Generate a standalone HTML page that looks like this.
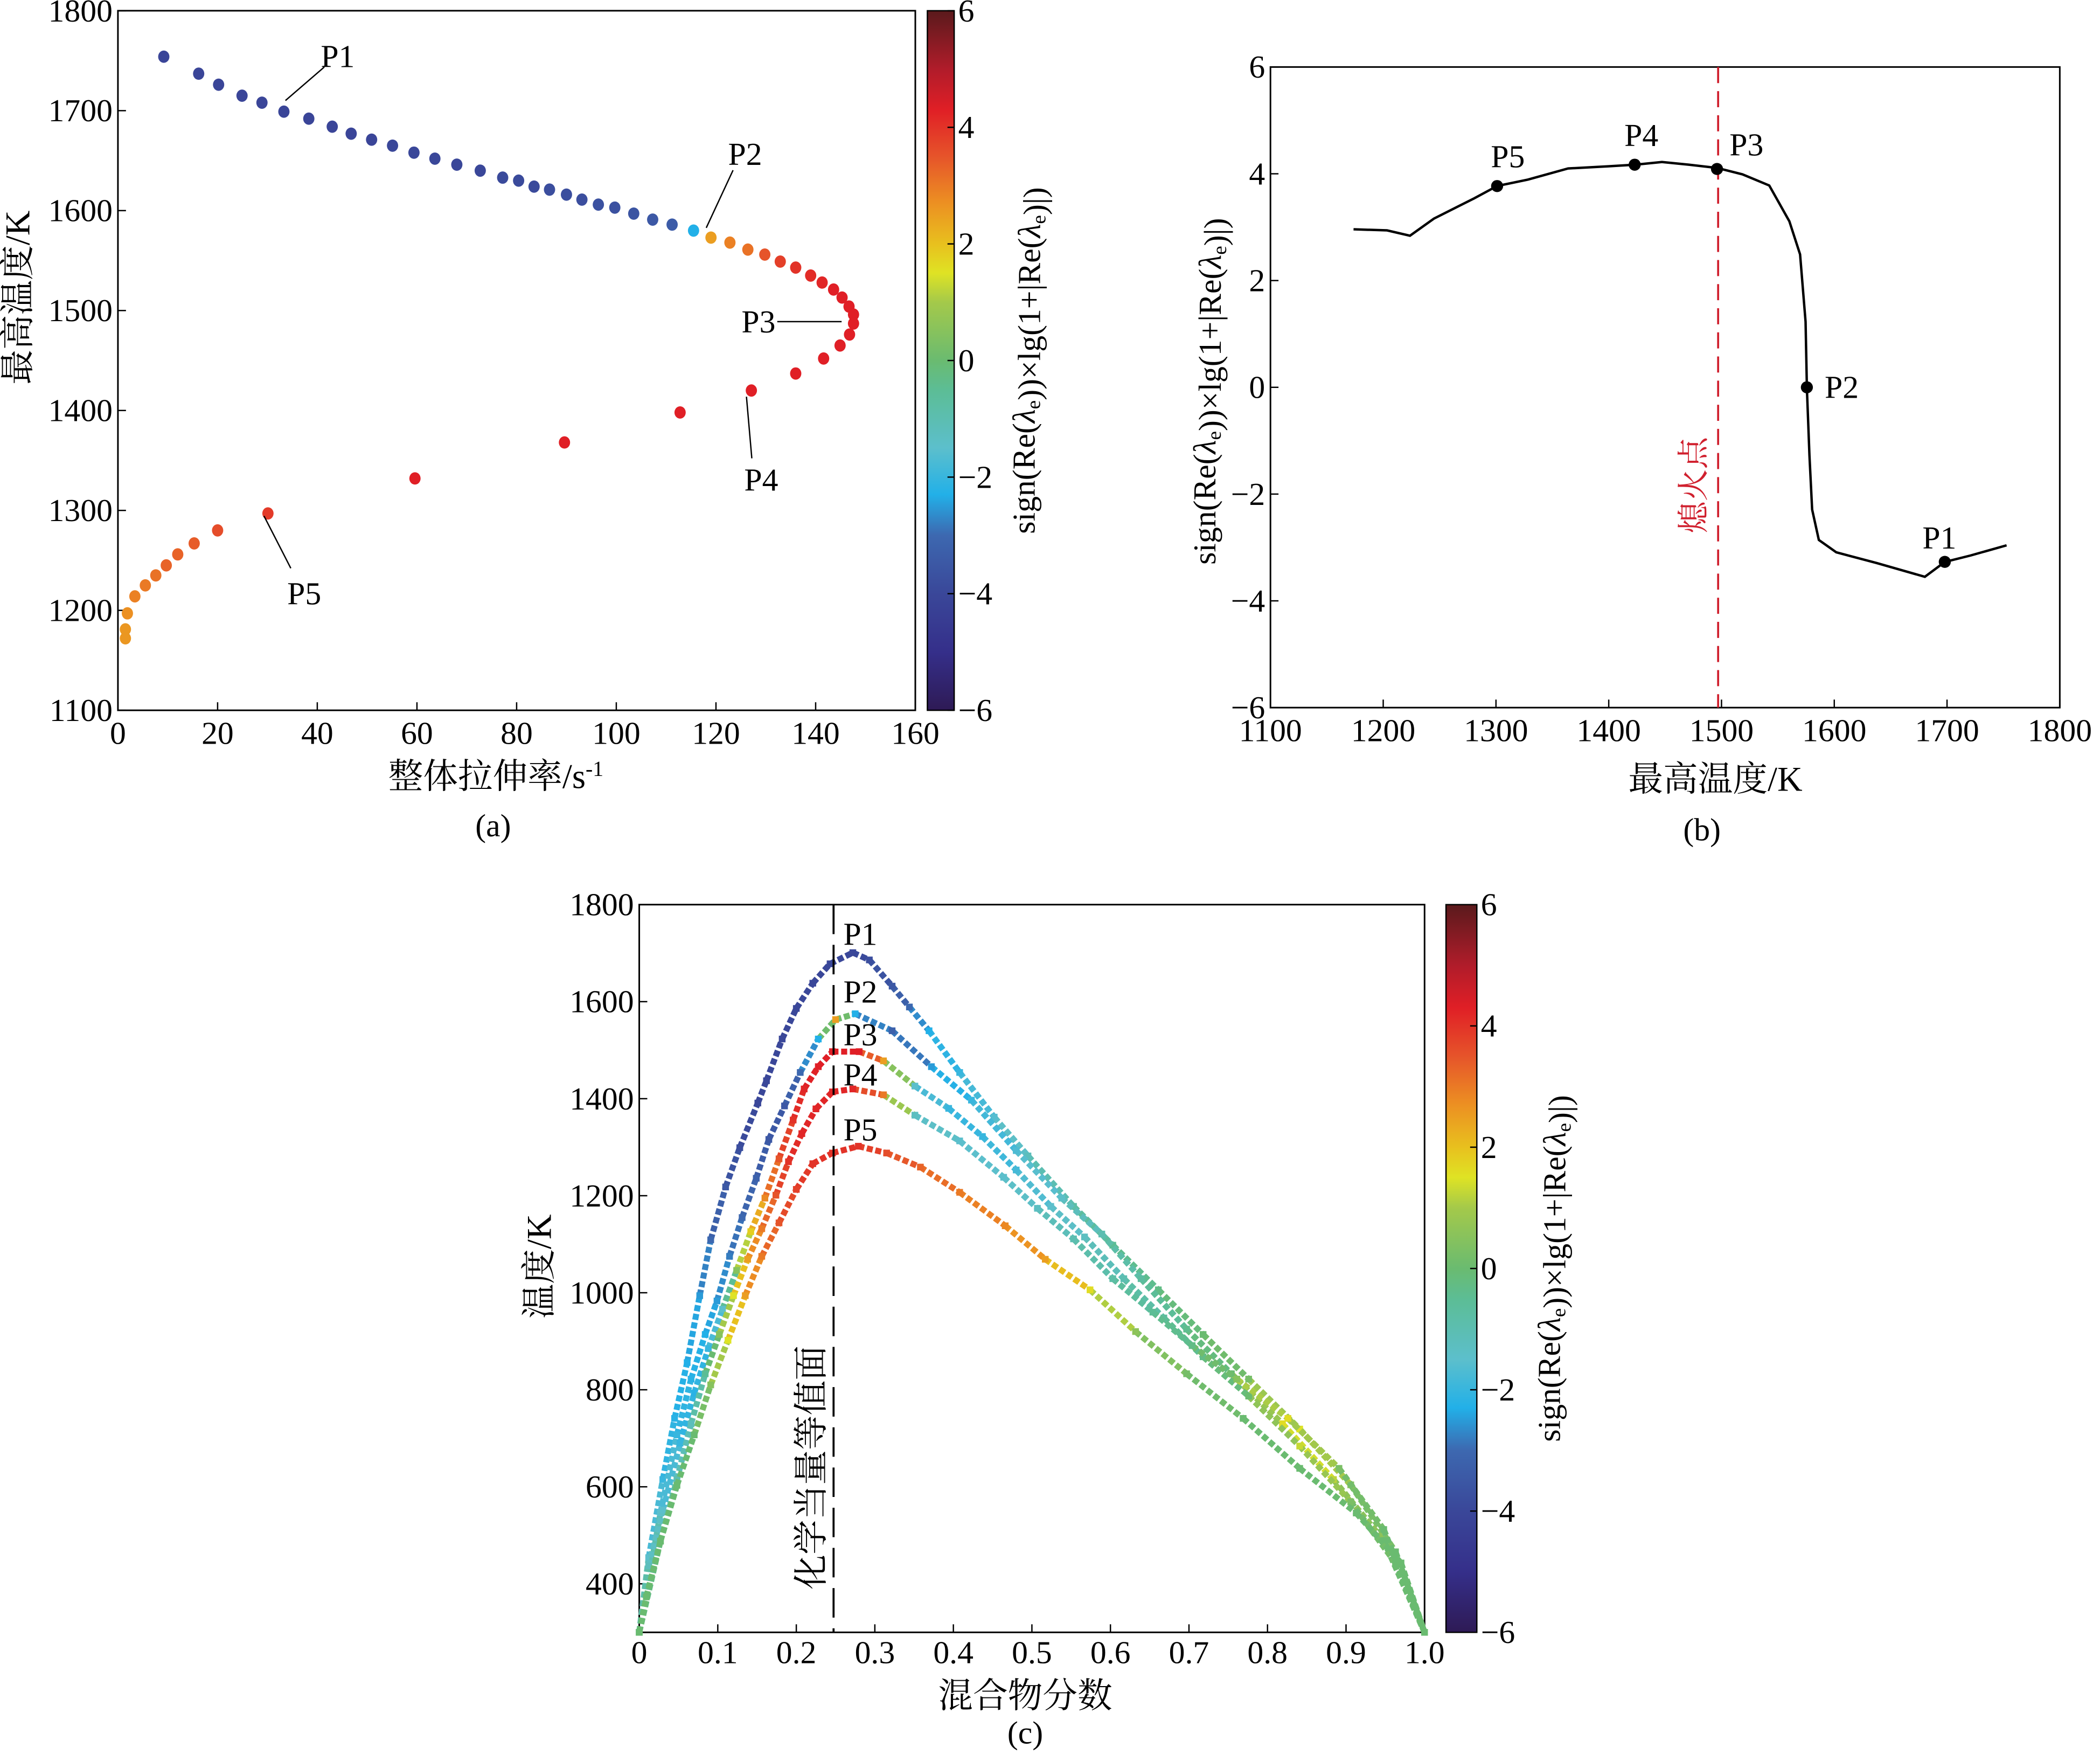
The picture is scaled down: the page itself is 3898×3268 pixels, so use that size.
<!DOCTYPE html>
<html><head><meta charset="utf-8">
<style>
html,body{margin:0;padding:0;background:#fff;}
svg{display:block;}
text{font-family:"Liberation Serif","Noto Serif CJK SC",serif;fill:#000;}
</style></head>
<body>
<svg id="fig" xmlns="http://www.w3.org/2000/svg" width="3898" height="3268" viewBox="0 0 1567 1314" preserveAspectRatio="none">
<defs>
<linearGradient id="cmap" x1="0" y1="1" x2="0" y2="0"></linearGradient>
</defs>
<g id="root"></g>
</svg>
<script>
// ---------- Panel (a) data ----------
const aRate=[9.2,16.2,20.2,24.9,28.9,33.3,38.3,43.0,46.8,50.9,55.1,59.4,63.6,68.0,72.7,77.2,80.4,83.5,86.6,90.0,93.1,96.4,99.7,103.5,107.3,111.2,115.5,119.0,122.8,126.4,129.8,132.9,136.0,139.0,141.3,143.6,145.3,146.7,147.6,147.6,146.8,144.9,141.6,136.0,127.1,112.8,89.6,59.6,30.1,20.0,15.3,12.0,9.7,7.6,5.5,3.4,1.9,1.5,1.5];
const aTemp=[1754,1737,1726,1715,1708,1699,1692,1684,1677,1671,1665,1658,1652,1646,1640,1633,1630,1624,1621,1616,1611,1606,1603,1597,1591,1586,1580,1573,1568,1561,1556,1549,1543,1535,1528,1521,1513,1504,1496,1487,1476,1465,1452,1437,1420,1398,1368,1332,1297,1280,1267,1256,1245,1235,1225,1214,1197,1181,1172];
const aVal=[-4.1,-4.1,-4.1,-4.1,-4.1,-4.1,-4.1,-4.1,-4.1,-4.1,-4.0,-4.0,-4.0,-4.0,-4.0,-3.9,-3.9,-3.9,-3.8,-3.8,-3.8,-3.7,-3.7,-3.6,-3.5,-3.4,-2.3,2.5,2.9,3.1,3.5,3.8,4.0,4.1,4.2,4.3,4.3,4.3,4.3,4.3,4.3,4.3,4.3,4.3,4.3,4.3,4.3,4.3,3.9,3.6,3.4,3.3,3.3,3.1,3.0,2.9,2.7,2.6,2.6];
const aXTicks=[0,20,40,60,80,100,120,140,160];
const aYTicks=[1100,1200,1300,1400,1500,1600,1700,1800];
const cbTicks=[-6,-4,-2,0,2,4,6];
// ---------- Panel (b) data ----------
const bTemp=[1173.7,1203.4,1223.7,1245,1280.7,1301,1328.3,1364,1399.6,1423.4,1447.2,1471,1496,1518.6,1542.4,1560.2,1569.7,1574.5,1575.7,1578,1580.4,1586.3,1601.8,1637.5,1680.3,1698,1720.8,1752.8];
const bVal=[2.96,2.94,2.84,3.16,3.54,3.77,3.89,4.1,4.14,4.17,4.22,4.17,4.11,3.99,3.78,3.11,2.49,1.23,-0.03,-1.28,-2.29,-2.86,-3.09,-3.29,-3.55,-3.27,-3.15,-2.96];
const bMarkT=[1301,1423,1496,1575.7,1698];
const bMarkV=[3.77,4.17,4.09,0,-3.27];
const bMarkLbl=['P5','P4','P3','P2','P1'];
const bXTicks=[1100,1200,1300,1400,1500,1600,1700,1800];
const bYTicks=[-6,-4,-2,0,2,4,6];
// ---------- Panel (c) data ----------
const c1Z=[0,.012,.03,.045,.061,.077,.091,.11,.128,.151,.162,.182,.2,.221,.243,.272,.293,.322,.344,.369,.408,.452,.495,.553,.603,.661,.718,.776,.841,.906,.963,1.0];
const c1T=[300,454,615,741,856,994,1109,1218,1299,1391,1437,1523,1586,1638,1678,1701,1686,1632,1589,1540,1454,1362,1282,1178,1098,1006,914,822,719,604,466,300];
const c1V=[-0.5,-1.5,-2,-2.2,-2.3,-2.5,-3,-3.5,-3.8,-4,-4,-4,-4,-4,-4,-4,-3.8,-3.5,-3,-2.3,-2,-1.6,-1.2,-0.8,-0.5,-0.3,0,0.2,1.5,0.5,0,0];
const c2Z=[0,.027,.048,.066,.084,.099,.115,.131,.149,.165,.185,.205,.228,.25,.275,.322,.372,.423,.48,.538,.589,.639,.697,.754,.819,.884,.948,1];
const c2T=[300,546,707,822,914,983,1075,1155,1236,1316,1385,1454,1523,1563,1575,1540,1466,1397,1293,1195,1121,1029,925,833,730,615,489,300];
const c2V=[-0.5,-1.5,-2,-2.2,-2.3,-2.5,-2.8,-3,-3.2,-3.5,-3.5,-3,-2.3,2.5,-2.3,-3.2,-2.5,-2,-1.7,-1.4,-1,-0.7,-0.4,0,1.6,1.2,0,0];
const c3Z=[0,.012,.03,.052,.07,.088,.106,.124,.142,.16,.178,.196,.21,.228,.246,.28,.311,.351,.394,.437,.48,.524,.567,.617,.668,.718,.776,.841,.906,.963,1];
const c3T=[300,437,552,690,793,885,966,1046,1126,1195,1276,1356,1420,1466,1497,1497,1478,1426,1380,1322,1253,1178,1115,1029,948,868,787,684,569,443,300];
const c3V=[-0.5,-1.2,-1.5,-2,-2.2,-2,-1.5,0.5,1.8,2.8,3.5,4,4.2,4.3,4.3,4.3,2.5,-1.5,-2,-2,-1.8,-1.5,-1.3,-1,-0.6,-0.3,0,1.3,0.3,0,0];
const c4Z=[0,.027,.048,.066,.084,.102,.12,.138,.156,.174,.19,.207,.225,.246,.272,.311,.351,.408,.464,.507,.553,.603,.654,.704,.761,.826,.891,.948,1];
const c4T=[300,488,615,730,833,914,994,1069,1132,1201,1270,1328,1379,1414,1420,1408,1366,1313,1238,1174,1111,1029,960,891,822,741,638,512,300];
const c4V=[0,-0.5,-1,-1.2,-0.5,0.5,1.5,2.5,3,3.5,4,4.2,4.2,4.2,4.2,3,-1.3,-1.5,-1.5,-1.3,-1,-0.8,-0.5,-0.3,0.5,1.6,0.3,0,0];
const c5Z=[0,.009,.027,.048,.07,.091,.113,.135,.156,.178,.2,.221,.246,.279,.315,.358,.408,.466,.517,.574,.632,.697,.769,.841,.913,.97,1];
const c5T=[300,373,488,603,707,810,902,994,1075,1144,1213,1266,1288,1302,1288,1259,1207,1138,1069,1006,920,833,741,638,546,443,300];
const c5V=[0,0,0,0,0,0.5,1.5,2.5,3,3.5,3.8,4,4,4,3.6,3.3,3,2.8,2.5,1.6,0.6,0.2,0,0,0,0,0];
const cXTicks=[0,0.1,0.2,0.3,0.4,0.5,0.6,0.7,0.8,0.9,1.0];
const cXLabels=['0','0.1','0.2','0.3','0.4','0.5','0.6','0.7','0.8','0.9','1.0'];
const cYTicks=[400,600,800,1000,1200,1400,1600,1800];
const cPeakLbl=['P1','P2','P3','P4','P5'];

const NS='http://www.w3.org/2000/svg';
const root=document.getElementById('root');
function mk(tag,attrs,parent){const e=document.createElementNS(NS,tag);for(const k in attrs)e.setAttribute(k,attrs[k]);(parent||root).appendChild(e);return e;}
const stops=[[-6,'#2e1a55'],[-5,'#352f8a'],[-4,'#3a4799'],[-3,'#3d68b0'],[-2.3,'#22b0e8'],[-1.5,'#5cbfcc'],[-0.5,'#5cbd95'],[0,'#6abb70'],[1,'#a4c94a'],[1.5,'#dfe324'],[2,'#e8c01e'],[2.7,'#ec9022'],[3.5,'#e6542a'],[4.3,'#e01f26'],[5,'#b01c2a'],[6,'#5a1a1c']];
function hx(c){return [parseInt(c.substr(1,2),16),parseInt(c.substr(3,2),16),parseInt(c.substr(5,2),16)];}
function cmap(v){v=Math.max(-6,Math.min(6,v));for(let i=0;i<stops.length-1;i++){const a=stops[i],b=stops[i+1];if(v<=b[0]){const t=(v-a[0])/(b[0]-a[0]);const ca=hx(a[1]),cb=hx(b[1]);return 'rgb('+ca.map((x,j)=>Math.round(x+(cb[j]-x)*t)).join(',')+')';}}return stops[stops.length-1][1];}
const grad=document.getElementById('cmap');
stops.forEach(s=>{const st=document.createElementNS(NS,'stop');st.setAttribute('offset',((s[0]+6)/12).toFixed(4));st.setAttribute('stop-color',s[1]);grad.appendChild(st);});

function txt(x,y,s,size,anchor,parent,name,extra){const t=mk('text',Object.assign({x:x,y:y,'font-size':size,'text-anchor':anchor||'middle'},extra||{}),parent);t.textContent=s;


return t;}
function group(name){const g=mk('g',{});


return g;}
function addLambdaTitle(t){
 const parts=[['sign(Re(',null],['\u03bb','it'],['e','sub'],['))\u00d7lg(1+|Re(',null],['\u03bb','it'],['e','sub'],[')|)',null]];
 parts.forEach(p=>{const ts=document.createElementNS(NS,'tspan');ts.textContent=p[0];
  if(p[1]==='it')ts.setAttribute('font-style','italic');
  if(p[1]==='sub'){ts.setAttribute('font-size','15');ts.setAttribute('dy','4');}
  t.appendChild(ts);
  if(p[1]==='sub'){const b=document.createElementNS(NS,'tspan');b.setAttribute('dy','-4');b.textContent='';t.appendChild(b);}
 });
}

function colorbar(x,top,w,bot,tx,name){
 const g=group(name);
 const r=mk('rect',{x:x,y:top,width:w,height:bot-top,fill:'url(#cmap)',stroke:'#000','stroke-width':1},g);
 
 
 const sc=v=>bot-(v+6)/12*(bot-top);
 cbTicks.forEach(v=>{mk('line',{x1:x+w-5,x2:x+w,y1:sc(v),y2:sc(v),stroke:'#000','stroke-width':1},g);
  txt(x+w+3,sc(v)+8,(v<0?'\u2212':'')+Math.abs(v),24,'start',g,'colorbar-tick-label');});
 const t=txt(0,0,'',24,'middle',g,'colorbar-title',{transform:'translate('+tx+','+((top+bot)/2)+') rotate(-90)'});
 addLambdaTitle(t);
}

// ===== Panel (a) =====
(function(){
 const L=88,R=683,T=8,B=530;
 const xs=v=>L+v/160*(R-L), ys=v=>B-(v-1100)/700*(B-T);
 const g=group('panel-a');
 mk('rect',{x:L,y:T,width:R-L,height:B-T,fill:'none',stroke:'#000','stroke-width':1.2},g);
 aXTicks.forEach(v=>{mk('line',{x1:xs(v),x2:xs(v),y1:B,y2:B-6,stroke:'#000'},g);txt(xs(v),B+25,String(v),24,'middle',g,'x-tick-label');});
 aYTicks.forEach(v=>{mk('line',{x1:L,x2:L+6,y1:ys(v),y2:ys(v),stroke:'#000'},g);txt(L-4,ys(v)+8,String(v),24,'end',g,'y-tick-label');});
 for(let i=0;i<aRate.length;i++){
  const e=mk('ellipse',{cx:xs(aRate[i]),cy:ys(aTemp[i]),rx:4.2,ry:4.6,fill:cmap(aVal[i])},g);
  
  
 }
 const lines=[[242,50,213,75],[547,127,527,170],[580,240,628,240],[557,296,561,342],[197,385,217,424]];
 lines.forEach(l=>mk('line',{x1:l[0],y1:l[1],x2:l[2],y2:l[3],stroke:'#000','stroke-width':1},g));
 txt(252,50,'P1',24,'middle',g,'label-p1');
 txt(556,123,'P2',24,'middle',g,'label-p2');
 txt(566,248,'P3',24,'middle',g,'label-p3');
 txt(568,366,'P4',24,'middle',g,'label-p4');
 txt(227,451,'P5',24,'middle',g,'label-p5');
 txt(0,0,'最高温度/K',26,'middle',g,'y-axis-title',{transform:'translate(22,222) rotate(-90)'});
 const xt=txt(370,588,'整体拉伸率/s',26,'middle',g,'x-axis-title');
 const sup=document.createElementNS(NS,'tspan');sup.setAttribute('dy','-9');sup.setAttribute('font-size','16');sup.textContent='-1';xt.appendChild(sup);
 txt(368,624,'(a)',24,'middle',g,'panel-label-a');
 colorbar(692,8,20,530,772,'colorbar-a');
})();

// ===== Panel (b) =====
(function(){
 const L=948,R=1537,T=50,B=528;
 const xs=v=>L+(v-1100)/700*(R-L), ys=v=>B-(v+6)/12*(B-T);
 const g=group('panel-b');
 mk('rect',{x:L,y:T,width:R-L,height:B-T,fill:'none',stroke:'#000','stroke-width':1.2},g);
 bXTicks.forEach(v=>{mk('line',{x1:xs(v),x2:xs(v),y1:B,y2:B-6,stroke:'#000'},g);txt(xs(v),B+25,String(v),24,'middle',g,'x-tick-label');});
 bYTicks.forEach(v=>{mk('line',{x1:L,x2:L+6,y1:ys(v),y2:ys(v),stroke:'#000'},g);txt(L-4,ys(v)+8,(v<0?'\u2212':'')+Math.abs(v),24,'end',g,'y-tick-label');});
 const d=bTemp.map((t,i)=>(i?'L':'M')+xs(t).toFixed(1)+','+ys(bVal[i]).toFixed(1)).join(' ');
 const p=mk('path',{d:d,fill:'none',stroke:'#000','stroke-width':1.8},g);
 
 
 const dl=mk('line',{x1:xs(1497),x2:xs(1497),y1:T,y2:B,stroke:'#d0202e','stroke-width':1.5,'stroke-dasharray':'12,6'},g);
 
 
 txt(0,0,'熄火点',24,'middle',g,'extinction-label',{transform:'translate(1272,362) rotate(-90)',style:'fill:#d0202e'});
 const off=[[8,-14],[5,-14],[22,-10],[26,8],[-4,-10]];
 bMarkT.forEach((t,i)=>{
  const c=mk('circle',{cx:xs(t),cy:ys(bMarkV[i]),r:4.5,fill:'#000'},g);
  
  
  txt(xs(t)+off[i][0],ys(bMarkV[i])+off[i][1],bMarkLbl[i],24,'middle',g,'label-'+bMarkLbl[i].toLowerCase());
 });
 const yt=txt(0,0,'',24,'middle',g,'y-axis-title',{transform:'translate(907,292) rotate(-90)'});
 addLambdaTitle(yt);
 txt(1280,590,'最高温度/K',26,'middle',g,'x-axis-title');
 txt(1270,627,'(b)',24,'middle',g,'panel-label-b');
})();

// ===== Panel (c) =====
(function(){
 const L=477,R=1063,T=675,B=1218;
 const xs=v=>L+v*(R-L), ys=v=>B-(v-300)/1500*(B-T);
 const g=group('panel-c');
 mk('rect',{x:L,y:T,width:R-L,height:B-T,fill:'none',stroke:'#000','stroke-width':1.2},g);
 cXTicks.forEach((v,i)=>{mk('line',{x1:xs(v),x2:xs(v),y1:B,y2:B-6,stroke:'#000'},g);txt(xs(v),B+23,cXLabels[i],24,'middle',g,'x-tick-label');});
 cYTicks.forEach(v=>{mk('line',{x1:L,x2:L+6,y1:ys(v),y2:ys(v),stroke:'#000'},g);txt(L-4,ys(v)+8,String(v),24,'end',g,'y-tick-label');});
 const series=[[c1Z,c1T,c1V],[c2Z,c2T,c2V],[c3Z,c3T,c3V],[c4Z,c4T,c4V],[c5Z,c5T,c5V]];
 series.forEach((s,k)=>{
  const sg=mk('g',{},g);
  
  
  for(let i=0;i<s[0].length-1;i++){
   const ln=mk('line',{x1:xs(s[0][i]),y1:ys(s[1][i]),x2:xs(s[0][i+1]),y2:ys(s[1][i+1]),stroke:cmap((s[2][i]+s[2][i+1])/2),'stroke-width':4.5,'stroke-dasharray':'4.5,2'},sg);
   
   
  }
  for(let i=0;i<s[0].length;i++){
   const r=mk('rect',{x:xs(s[0][i])-2.5,y:ys(s[1][i])-2.5,width:5,height:5,fill:cmap(s[2][i])},sg);
   
   
  }
 });
 const sl=mk('line',{x1:622,x2:622,y1:T,y2:B,stroke:'#000','stroke-width':1.5,'stroke-dasharray':'22,8'},g);
 
 
 txt(0,0,'化学当量等值面',26,'middle',g,'stoichiometric-label',{transform:'translate(614,1095) rotate(-90)'});
 const ly=[705,748,780,810,851];
 cPeakLbl.forEach((l,i)=>txt(642,ly[i],l,24,'middle',g,'label-'+l.toLowerCase()));
 txt(0,0,'温度/K',26,'middle',g,'y-axis-title',{transform:'translate(411,945) rotate(-90)'});
 txt(765,1274,'混合物分数',26,'middle',g,'x-axis-title');
 txt(765,1301,'(c)',24,'middle',g,'panel-label-c');
 colorbar(1079,675,23,1218,1164,'colorbar-c');
})();
</script>
</body></html>
